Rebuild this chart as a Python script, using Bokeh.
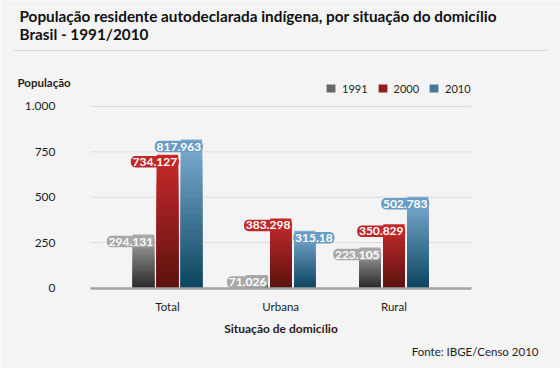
from bokeh.plotting import figure
from bokeh.models import (ColumnDataSource, Range1d, FixedTicker, Label, Legend,
                          LegendItem, BoxAnnotation, LinearAxis)
from bokeh.core.properties import value
from bokeh.embed import file_html
from bokeh.resources import INLINE

# ---------------- data ----------------
title_line1 = "População residente autodeclarada indígena, por situação do domicílio"
title_line2 = "Brasil - 1991/2010"
y_title = "População"
x_title = "Situação de domicílio"
source_note = "Fonte: IBGE/Censo 2010"

categories = ["Total", "Urbana", "Rural"]
years = ["1991", "2000", "2010"]
values_1991 = [294.131, 71.026, 223.105]
values_2000 = [734.127, 383.298, 350.829]
values_2010 = [817.963, 315.180, 502.783]
labels_1991 = ["294.131", "71.026", "223.105"]
labels_2000 = ["734.127", "383.298", "350.829"]
labels_2010 = ["817.963", "315.18", "502.783"]
y_ticks = [0, 250, 500, 750, 1000]
y_tick_labels = ["0", "250", "500", "750", "1.000"]

# ---------------- style / layout ----------------
FONT = "Lato"
BG = "#f4f4f4"
W, H = 560, 368
bar_top_colors = ["#a8a8a8", "#c8292b", "#7eaed3"]
bar_bottom_colors = ["#262626", "#58130e", "#09435d"]
halo_colors = ["#a9a9a9", "#c12829", "#6a9dc3"]
label_sides = [["right", "right", "right"],
               ["right", "right", "right"],
               ["right", "left", "right"]]
offsets = [-0.212, 0.0, 0.212]
bar_w = 0.188
n_layers = 28
X_LO, X_HI = -0.6802, 2.6855          # horizontal extent of the plotting area


def mix(c1, c2, t):
    a = [int(c1[i:i + 2], 16) for i in (1, 3, 5)]
    b = [int(c2[i:i + 2], 16) for i in (1, 3, 5)]
    return "#%02x%02x%02x" % tuple(int(round(a[k] + (b[k] - a[k]) * t)) for k in range(3))


series_values = [values_1991, values_2000, values_2010]
series_labels = [labels_1991, labels_2000, labels_2010]

p = figure(width=W, height=H, output_backend="svg", toolbar_location=None,
           x_range=Range1d(-1.4753, 3.4717), y_range=Range1d(-443.5, 1584.0),
           x_axis_location=None, y_axis_location=None,
           min_border=0, min_border_left=0, min_border_right=0,
           min_border_top=0, min_border_bottom=0)
p.background_fill_color = BG
p.border_fill_color = BG
p.outline_line_color = None
p.xgrid.visible = False
p.ygrid.visible = False

# gridlines
grid_src = ColumnDataSource(dict(y=[t for t in y_ticks if t > 0]))
p.segment(x0=X_LO, x1=X_HI, y0="y", y1="y", source=grid_src,
          line_color="#dcdcdc", line_width=1)

# bars (top-to-bottom gradient built from stacked layers of each value)
legend_items = []
for s in range(3):
    xs, tops, cols = [], [], []
    for k in range(n_layers):
        f = 1 - k / n_layers
        c = mix(bar_bottom_colors[s], bar_top_colors[s], f)
        for i, v in enumerate(series_values[s]):
            xs.append(i + offsets[s])
            tops.append(v * f)
            cols.append(c)
    src = ColumnDataSource(dict(x=xs, top=tops, color=cols))
    r = p.vbar(x="x", top="top", bottom=0, width=bar_w, fill_color="color",
               line_color=None, source=src)
    legend_items.append(LegendItem(label=years[s], renderers=[r],
                                   index=(n_layers // 2) * 3))

# axes (fixed inside the canvas)
xaxis = LinearAxis(fixed_location=0, bounds=(X_LO, X_HI))
xaxis.ticker = FixedTicker(ticks=list(range(len(categories))))
xaxis.major_label_overrides = {i: c for i, c in enumerate(categories)}
xaxis.axis_line_color = "#a3a3a3"
xaxis.axis_line_width = 2.5
xaxis.major_tick_line_color = None
xaxis.minor_tick_line_color = None
xaxis.major_tick_out = 0
xaxis.major_tick_in = 0
xaxis.minor_tick_out = 0
xaxis.major_label_standoff = 12
xaxis.major_label_text_font = FONT
xaxis.major_label_text_font_size = "11.5px"
xaxis.major_label_text_color = "#1e1e1e"
xaxis.axis_label = x_title
xaxis.axis_label_text_font = FONT
xaxis.axis_label_text_font_style = "bold"
xaxis.axis_label_text_font_size = "12px"
xaxis.axis_label_text_color = "#2a1c1a"
xaxis.axis_label_standoff = 4
p.add_layout(xaxis, "below")

yaxis = LinearAxis(fixed_location=X_LO, bounds=(0, 1000))
yaxis.ticker = FixedTicker(ticks=y_ticks)
yaxis.major_label_overrides = {t: l for t, l in zip(y_ticks, y_tick_labels)}
yaxis.axis_line_color = None
yaxis.major_tick_line_color = None
yaxis.minor_tick_line_color = None
yaxis.major_tick_out = 0
yaxis.major_tick_in = 0
yaxis.minor_tick_out = 0
yaxis.major_label_standoff = 35
yaxis.major_label_text_font = FONT
yaxis.major_label_text_font_size = "12px"
yaxis.major_label_text_color = "#1e1e1e"
p.add_layout(yaxis, "left")

# value labels
lx, ly, lt, lh, la = [], [], [], [], []
for s in range(3):
    for i, v in enumerate(series_values[s]):
        side = label_sides[s][i]
        lx.append(i + offsets[s] + (bar_w / 2 if side == "right" else -bar_w / 2))
        ly.append(v)
        lt.append(series_labels[s][i])
        lh.append(halo_colors[s])
        la.append(side)
lsrc = ColumnDataSource(dict(x=lx, y=ly, text=lt, halo=lh, align=la))
p.text(x="x", y="y", text="text", source=lsrc, text_align="align",
       text_baseline="middle", y_offset=7, text_color="white",
       text_font=value(FONT), text_font_style="bold", text_font_size="12px",
       background_fill_color="halo", border_line_color="halo",
       border_line_width=1.5, padding=1, border_radius=4)

# legend
legend = Legend(items=legend_items, orientation="horizontal", location=(325, 273),
                background_fill_alpha=0, border_line_color=None, padding=0,
                margin=0, spacing=9, label_standoff=6, glyph_width=11,
                glyph_height=10, label_height=14, label_width=10,
                label_text_font=FONT, label_text_font_size="11px",
                label_text_color="#1e1e1e")
p.add_layout(legend)

# titles and notes (screen units: x from left, y from bottom)
p.add_layout(Label(x=19, y=H - 15.5, x_units="screen", y_units="screen",
                   text=title_line1, text_font=FONT, text_font_style="bold",
                   text_font_size="15.3px", text_color="#111111",
                   text_baseline="middle"))
p.add_layout(Label(x=19, y=H - 33, x_units="screen", y_units="screen",
                   text=title_line2, text_font=FONT, text_font_style="bold",
                   text_font_size="15.3px", text_color="#111111",
                   text_baseline="middle"))
p.add_layout(BoxAnnotation(left=13, right=547, bottom=H - 50.5, top=H - 49.5,
                           left_units="screen", right_units="screen",
                           bottom_units="screen", top_units="screen",
                           fill_color="#d6d6d6", fill_alpha=1, line_color=None))
p.add_layout(Label(x=17, y=H - 81.5, x_units="screen", y_units="screen",
                   text=y_title, text_font=FONT, text_font_style="bold",
                   text_font_size="11.5px", text_color="#2a1c1a",
                   text_baseline="middle"))
p.add_layout(Label(x=538, y=H - 351, x_units="screen", y_units="screen",
                   text=source_note, text_font=FONT, text_font_size="11.5px",
                   text_color="#1e1e1e", text_baseline="middle",
                   text_align="right"))

open("out.html", "w").write(file_html(p, INLINE))
